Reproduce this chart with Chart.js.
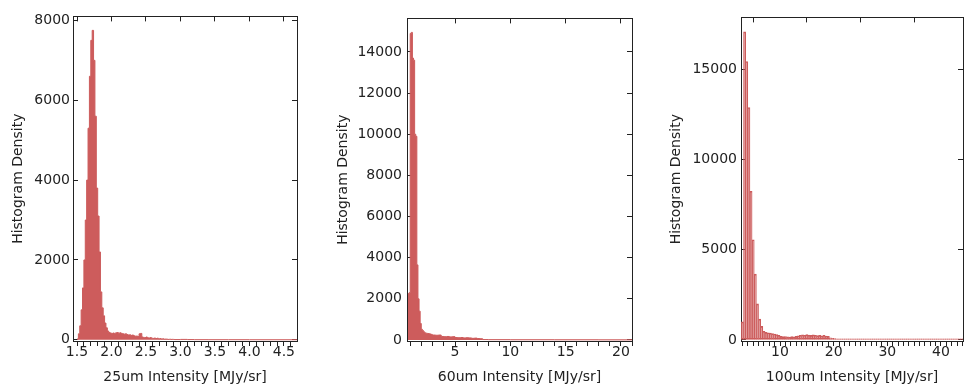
<!DOCTYPE html>
<html>
<head>
<meta charset="utf-8">
<script src="https://cdn.jsdelivr.net/npm/chart.js@4/dist/chart.umd.min.js"></script>
<style>
  body { margin: 0; background: #fff; }
  #wrap { position: relative; width: 965px; height: 389px; }
  canvas { position: absolute; top: 0; }
</style>
</head>
<body>
<div id="wrap">
  <canvas id="c25" width="320" height="389" style="left:0"></canvas>
  <canvas id="c60" width="330" height="389" style="left:320px"></canvas>
  <canvas id="c100" width="315" height="389" style="left:650px"></canvas>
</div>
<script>
// 25um histogram: 0.02-wide bins from 1.50, then a sparse tail
const p1Start = 1.50, p1Width = 0.02;
const p1Counts = [20, 150, 350, 750, 1300, 2000, 3000, 4000, 5300, 6600,
  7500, 7750, 7000, 5600, 3800, 3100, 2200, 1200, 800, 600,
  420, 300, 220, 180, 170, 160, 170, 160, 175, 180,
  165, 175, 160, 150, 140, 150, 130, 120, 125, 110,
  120, 100, 90, 95, 80, 150, 160, 70, 60, 55,
  70, 50, 45, 55, 40, 35, 45, 30, 40, 25,
  30, 20, 25, 15, 20, 15, 10, 15, 10, 12, 8];
const p1TailX = [2.92, 3.00, 3.10, 3.20, 3.40, 3.70, 4.00, 4.40];
const p1TailCounts = [6, 10, 6, 4, 3, 3, 2, 2];
const p1End = 4.69;
const p1YTicks = [0, 2000, 4000, 6000, 8000];

// 60um histogram: 0.1-wide bins from 0.75, then wider tail bins
const p2Start = 0.75, p2Width = 0.1;
const p2Counts = [2250, 2300, 14900, 14950, 13700, 13600, 10000, 9900, 3650, 2000,
  1400, 800, 520, 460, 400, 350, 330, 320, 310, 300, 290, 270];
const p2TailX = [2.95, 3.25, 3.5, 3.75, 4.0, 4.25, 4.5, 4.75, 5.0, 5.25, 5.5, 5.75,
  6.0, 6.25, 6.5, 6.75, 7.0, 7.25, 7.5, 8.0, 10.0, 14.0, 18.0];
const p2TailCounts = [240, 230, 240, 170, 160, 170, 150, 160, 120, 110, 120, 100,
  110, 100, 80, 90, 70, 60, 20, 15, 10, 8, 5];
const p2End = 21.0;
const p2YTicks = [0, 2000, 4000, 6000, 8000, 10000, 12000, 14000];

// 100um histogram: 0.4-wide bins from 2.8
const p3Start = 2.8, p3Width = 0.4;
const p3Counts = [1000, 17100, 15450, 12900, 8250, 5560, 3650, 2000, 1150, 750,
  480, 420, 400, 380, 350, 330, 300, 260, 200, 180,
  190, 170, 160, 180, 170, 200, 230, 260, 280, 260,
  290, 270, 250, 280, 260, 240, 250, 230, 260, 220,
  200, 110, 90, 70, 60, 65, 55, 60, 50, 45,
  55, 50, 40, 45, 35, 30, 20, 15, 20, 15,
  25, 15, 10, 15, 20, 10, 15, 10, 10, 15,
  10, 10, 5, 10, 10, 5, 10, 5, 5, 10,
  5, 5, 5, 10, 5, 5, 5, 5, 5, 5,
  5, 5, 5, 5, 5, 5, 5, 5, 5, 5, 5, 5, 5, 5];
const p3YTicks = [0, 5000, 10000, 15000];

const RED = '#cd5c5c';
const INK = '#222';
const FONT = { family: 'DejaVu Sans', size: 14 };

function stepPoints(start, width, counts, tailX, tailCounts, end) {
  const pts = counts.map((c, i) => ({ x: start + i * width, y: c }));
  tailX.forEach((x, i) => pts.push({ x: x, y: tailCounts[i] }));
  pts.push({ x: end, y: 0 });
  return pts;
}

function isMajor(v, step) {
  const r = v / step;
  return Math.abs(r - Math.round(r)) < 1e-6;
}

function setTicks(values) {
  return scale => { scale.ticks = values.map(v => ({ value: v })); };
}

function buildScales(p) {
  return {
    x: {
      type: 'linear', position: 'bottom', min: p.xMin, max: p.xMax, offset: false,
      afterFit: s => { s.height = 48; },
      border: { color: INK },
      grid: { drawOnChartArea: false, tickLength: 5, color: INK, offset: false },
      ticks: {
        stepSize: p.xMinor, autoSkip: false, includeBounds: false, maxRotation: 0,
        padding: -2, color: INK, font: FONT,
        callback: v => isMajor(v, p.xMajor) ? p.xFmt(v) : ''
      },
      title: { display: true, text: p.xTitle, color: INK, font: FONT, padding: { top: 0, bottom: 3 } }
    },
    xTop: {
      type: 'linear', position: 'top', min: p.xMin, max: p.xMax, offset: false,
      afterFit: s => { s.height = 13; },
      border: { color: INK },
      grid: { drawOnChartArea: false, tickLength: -5, color: INK },
      ticks: { display: false, stepSize: p.xMajor, autoSkip: false, includeBounds: false }
    },
    y: {
      type: 'linear', position: 'left', min: p.yMin, max: p.yMax,
      afterBuildTicks: setTicks(p.yTicks),
      afterFit: s => { s.width = p.left; },
      border: { color: INK },
      grid: { drawOnChartArea: false, tickLength: -5, color: INK },
      ticks: {
        autoSkip: false, padding: p.yPad, color: INK, font: FONT,
        callback: v => String(Math.round(v))
      },
      title: { display: true, text: 'Histogram Density', color: INK, font: FONT, padding: { top: p.yTitlePad, bottom: 0 } }
    },
    yRight: {
      type: 'linear', position: 'right', min: p.yMin, max: p.yMax,
      afterBuildTicks: setTicks(p.yTicks),
      afterFit: s => { s.width = p.right; },
      border: { color: INK },
      grid: { drawOnChartArea: false, tickLength: -5, color: INK },
      ticks: { display: false, autoSkip: false }
    }
  };
}

const baseOptions = {
  responsive: false,
  animation: false,
  events: [],
  layout: { padding: 0 },
  plugins: { legend: { display: false }, tooltip: { enabled: false } }
};

new Chart(document.getElementById('c25'), {
  type: 'line',
  data: {
    datasets: [{
      data: stepPoints(p1Start, p1Width, p1Counts, p1TailX, p1TailCounts, p1End),
      stepped: 'before', fill: 'origin',
      borderColor: RED, backgroundColor: RED, borderWidth: 1, pointRadius: 0
    }]
  },
  options: Object.assign({}, baseOptions, {
    scales: buildScales({
      xMin: 1.442, xMax: 4.69, xMinor: 0.1, xMajor: 0.5, xFmt: v => v.toFixed(1),
      xTitle: '25um Intensity [MJy/sr]',
      yMin: -30, yMax: 8100, yTicks: p1YTicks, yPad: 8, yTitlePad: 9.6, left: 73, right: 23
    })
  })
});

new Chart(document.getElementById('c60'), {
  type: 'line',
  data: {
    datasets: [{
      data: stepPoints(p2Start, p2Width, p2Counts, p2TailX, p2TailCounts, p2End),
      stepped: 'before', fill: 'origin',
      borderColor: RED, backgroundColor: RED, borderWidth: 1, pointRadius: 0
    }]
  },
  options: Object.assign({}, baseOptions, {
    scales: buildScales({
      xMin: 0.66, xMax: 21.0, xMinor: 1, xMajor: 5, xFmt: v => String(Math.round(v)),
      xTitle: '60um Intensity [MJy/sr]',
      yMin: -50, yMax: 15630, yTicks: p2YTicks, yPad: 10, yTitlePad: 14.6, left: 87, right: 18
    })
  })
});

new Chart(document.getElementById('c100'), {
  type: 'bar',
  data: {
    datasets: [{
      data: p3Counts.map((c, i) => ({ x: p3Start + (i + 0.5) * p3Width, y: c })),
      borderColor: RED, backgroundColor: 'rgba(205, 92, 92, 0.4)', borderWidth: 1,
      borderSkipped: false, minBarLength: 1,
      barPercentage: 1, categoryPercentage: 1
    }]
  },
  options: Object.assign({}, baseOptions, {
    scales: buildScales({
      xMin: 2.73, xMax: 44.1, xMinor: 1, xMajor: 10, xFmt: v => String(Math.round(v)),
      xTitle: '100um Intensity [MJy/sr]',
      yMin: -60, yMax: 17900, yTicks: p3YTicks, yPad: 9, yTitlePad: 17.6, left: 91, right: 2
    })
  })
});
</script>
</body>
</html>
